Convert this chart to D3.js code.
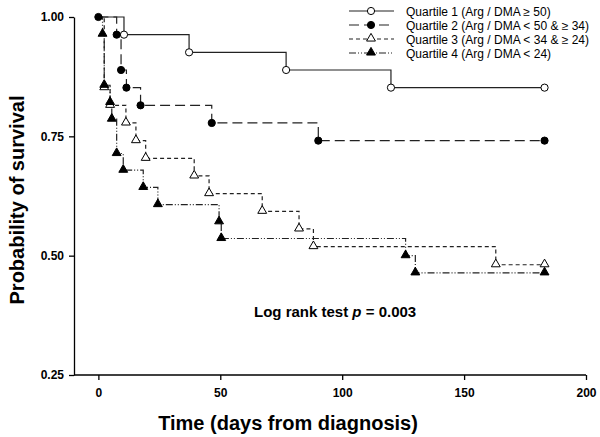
<!DOCTYPE html>
<html>
<head>
<meta charset="utf-8">
<script src="https://cdn.jsdelivr.net/npm/d3@7"></script>
<style>
body { margin:0; background:#fff; }
svg { display:block; font-family: "Liberation Sans", Arial, sans-serif; }
</style>
</head>
<body>
<svg id="chart" width="600" height="437"></svg>
<script>
// ---- data ----
const seriesNames = [
  "Quartile 1 (Arg / DMA \u2265 50)",
  "Quartile 2 (Arg / DMA < 50 & \u2265 34)",
  "Quartile 3 (Arg / DMA < 34 & \u2265 24)",
  "Quartile 4 (Arg / DMA < 24)"
];
// step points: [day, survival]
const q1Days = [0, 10.5, 37.2, 77, 120, 183];
const q1Surv = [1.00, 0.963, 0.926, 0.889, 0.852, 0.852];
const q2Days = [0, 7.5, 9.3, 11.5, 17.3, 46.5, 90.2, 183];
const q2Surv = [1.00, 0.963, 0.889, 0.852, 0.815, 0.778, 0.741, 0.741];
const q3Days = [0, 2.4, 4.8, 11.3, 15.4, 19.4, 39.3, 45.4, 67.2, 82.3, 88.2, 163, 183];
const q3Surv = [1.00, 0.852, 0.815, 0.778, 0.741, 0.704, 0.667, 0.630, 0.593, 0.556, 0.519, 0.481, 0.481];
const q4Days = [0, 1.7, 2.4, 4.8, 5.5, 7.5, 10.2, 18.4, 24.4, 49.5, 50.4, 126, 130, 183];
const q4Surv = [1.00, 0.964, 0.857, 0.821, 0.786, 0.714, 0.679, 0.643, 0.607, 0.571, 0.536, 0.500, 0.464, 0.464];
const xTicks = [0, 50, 100, 150, 200];
const yTicks = [0.25, 0.50, 0.75, 1.00];

const series = [
  {name: seriesNames[0], days: q1Days, surv: q1Surv, dash: null, symbol: "circle", fill: "#fff", startMark: false},
  {name: seriesNames[1], days: q2Days, surv: q2Surv, dash: "10,5", symbol: "circle", fill: "#000", startMark: true},
  {name: seriesNames[2], days: q3Days, surv: q3Surv, dash: "4,3", symbol: "triangle", fill: "#fff", startMark: false},
  {name: seriesNames[3], days: q4Days, surv: q4Surv, dash: "7,2,1,2,1,2", symbol: "triangle", fill: "#000", startMark: false}
];

const svg = d3.select("#chart");
const x = d3.scaleLinear().domain([-10, 200]).range([74, 586]);
const y = d3.scaleLinear().domain([0.25, 1.00]).range([375, 17]);

// axes
const xAxis = d3.axisBottom(x).tickValues(xTicks).tickFormat(d3.format("d")).tickSizeInner(5).tickSizeOuter(0).tickPadding(8);
const yAxis = d3.axisLeft(y).tickValues(yTicks).tickFormat(d3.format(".2f")).tickSizeInner(5).tickSizeOuter(0).tickPadding(5);

const gx = svg.append("g").attr("transform", "translate(0,375)").call(xAxis);
const gy = svg.append("g").attr("transform", "translate(74,0)").call(yAxis);
[gx, gy].forEach(g => {
  g.select(".domain").attr("stroke", "#000").attr("stroke-width", 1.3);
  g.selectAll(".tick line").attr("stroke", "#000").attr("stroke-width", 1.3);
  g.selectAll(".tick text").attr("fill", "#000").style("font-size", "12px").style("font-weight", "bold")
    .style("font-family", "'Liberation Sans', Arial, sans-serif");
});
gx.select(".domain").attr("d", `M${x(-10)},0H${x(200)}`);

// axis titles
svg.append("text").attr("x", 288).attr("y", 430).attr("text-anchor", "middle")
  .style("font-size", "20px").style("font-weight", "bold").text("Time (days from diagnosis)");
svg.append("text").attr("transform", "translate(24,200) rotate(-90)").attr("text-anchor", "middle")
  .style("font-size", "20px").style("font-weight", "bold").text("Probability of survival");

// step lines
const line = d3.line().curve(d3.curveStepAfter).x(d => x(d[0])).y(d => y(d[1]));
const triPath = d3.symbol().type(d3.symbolTriangle).size(34)();
const plot = svg.append("g");
series.slice().reverse().forEach(s => {
  const pts = s.days.map((d, i) => [d, s.surv[i]]);
  plot.append("path").datum(pts).attr("d", line).attr("fill", "none")
    .attr("stroke", "#222").attr("stroke-width", 1.2)
    .attr("stroke-dasharray", s.dash);
});
series.forEach(s => {
  const pts = s.days.map((d, i) => [d, s.surv[i]]).filter((p, i) => i > 0 || s.startMark);
  const g = plot.append("g");
  if (s.symbol === "circle") {
    g.selectAll("circle").data(pts).join("circle")
      .attr("cx", d => x(d[0])).attr("cy", d => y(d[1])).attr("r", 3.6)
      .attr("fill", s.fill).attr("stroke", "#000").attr("stroke-width", 1);
  } else {
    g.selectAll("path").data(pts).join("path")
      .attr("d", triPath)
      .attr("transform", d => `translate(${x(d[0])},${y(d[1]) - 0.5})`)
      .attr("fill", s.fill).attr("stroke", "#000").attr("stroke-width", 1);
  }
});

// legend
const leg = svg.append("g");
const legY = [11, 25, 39, 53];
series.forEach((s, i) => {
  const yy = legY[i];
  leg.append("line").attr("x1", 349).attr("x2", 394).attr("y1", yy).attr("y2", yy)
    .attr("stroke", "#222").attr("stroke-width", 1.2).attr("stroke-dasharray", s.dash);
  if (s.symbol === "circle") {
    leg.append("circle").attr("cx", 371).attr("cy", yy).attr("r", 3.6)
      .attr("fill", s.fill).attr("stroke", "#000").attr("stroke-width", 1);
  } else {
    leg.append("path").attr("d", triPath).attr("transform", `translate(371,${yy - 0.5})`)
      .attr("fill", s.fill).attr("stroke", "#000").attr("stroke-width", 1);
  }
  leg.append("text").attr("x", 406).attr("y", yy + 4.5).style("font-size", "12px").text(s.name);
});

// annotation
const ann = svg.append("text").attr("x", 254).attr("y", 317).style("font-size", "15px").style("font-weight", "bold");
ann.append("tspan").text("Log rank test ");
ann.append("tspan").style("font-style", "italic").text("p");
ann.append("tspan").text(" = 0.003");
</script>
</body>
</html>
